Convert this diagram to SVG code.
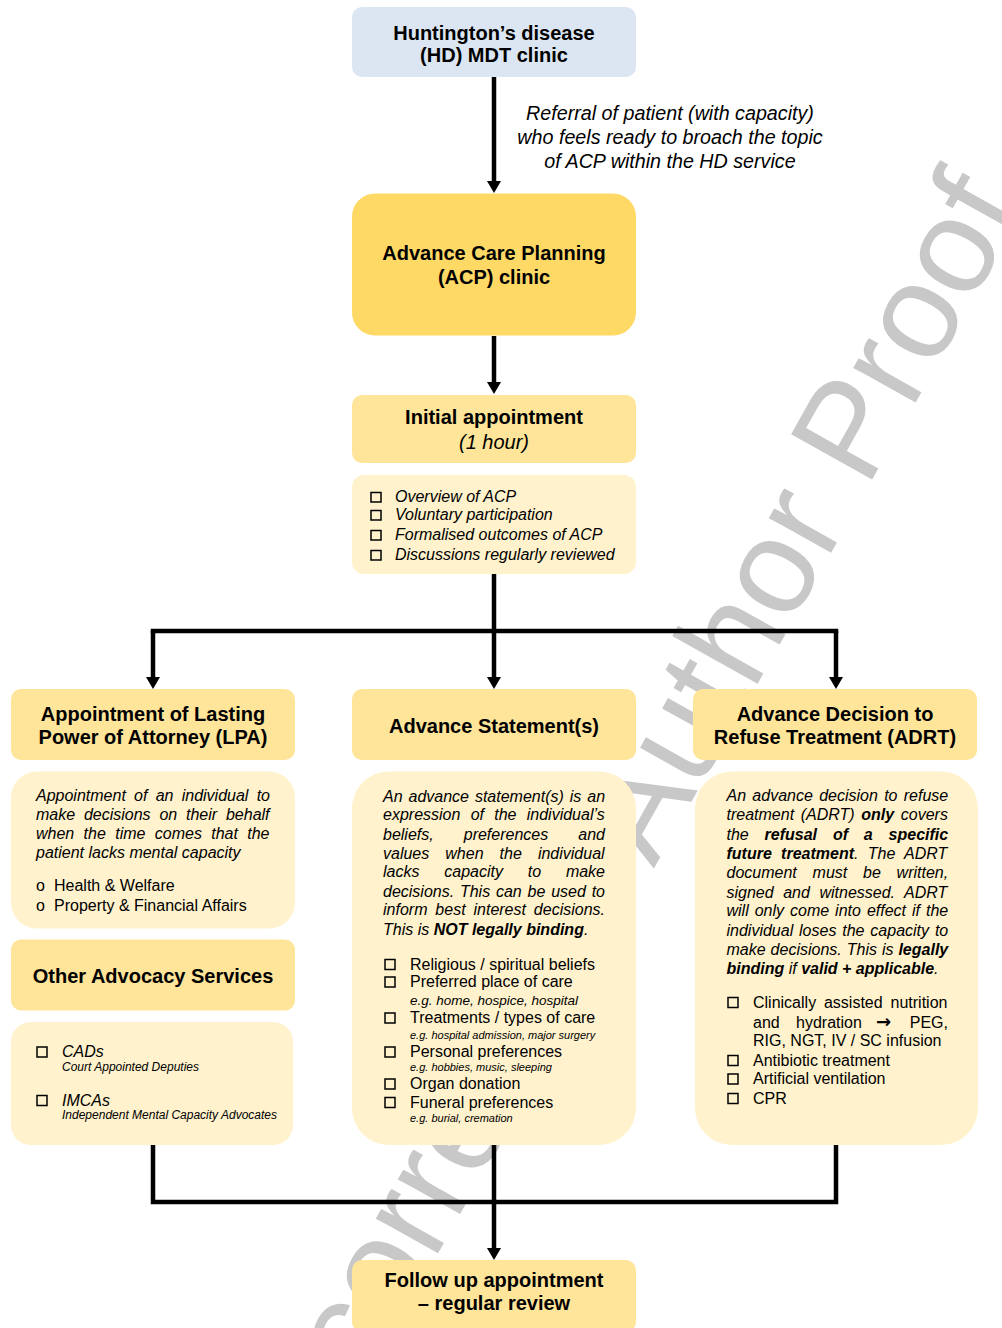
<svg xmlns="http://www.w3.org/2000/svg" width="1002" height="1328" viewBox="0 0 1002 1328">
<style>
text{font-family:"Liberation Sans",Arial,sans-serif;fill:#000}
.h{font-size:20px;font-weight:bold;text-anchor:middle}
.it{font-size:16px;font-style:italic}
.rg{font-size:16px}
.b{font-weight:bold}
.s11{font-size:11px;font-style:italic}
.s12{font-size:12px;font-style:italic}
.s13{font-size:13.5px;font-style:italic}
.blue{fill:#dce6f2}
.gold{fill:#ffd966}
.head{fill:#ffe599}
.body{fill:#fff2cc}
.cb{fill:none;stroke:#000;stroke-width:1.5}
.wm{font-size:135px;fill:#c8c8c8}
.con{fill:none;stroke:#000;stroke-width:4.5}
</style>
<defs>
<marker id="ah" viewBox="0 0 12 14" refX="0" refY="7" markerWidth="12" markerHeight="14" markerUnits="userSpaceOnUse" orient="auto">
<path d="M0,0 L12,7 L0,14 z" fill="#000"/>
</marker>
</defs>
<rect width="1002" height="1328" fill="#fff"/>
<text class="wm" transform="translate(652,872) rotate(-60.7)" text-anchor="middle">Uncorrected Author Proof</text>

<g id="connectors">
<path class="con" d="M494,77 V181" marker-end="url(#ah)"/>
<path class="con" d="M494,336 V382" marker-end="url(#ah)"/>
<path class="con" d="M494,574 V631"/>
<path class="con" d="M153,631 H836" stroke-linecap="square"/>
<path class="con" d="M153,631 V677" marker-end="url(#ah)"/>
<path class="con" d="M494,631 V677" marker-end="url(#ah)"/>
<path class="con" d="M836,631 V677" marker-end="url(#ah)"/>
<path class="con" d="M153,1145 V1202 H836 V1145" stroke-linejoin="miter"/>
<path class="con" d="M494,1145 V1248" marker-end="url(#ah)"/>
</g>
<text class="it" text-anchor="middle" style="font-size:19.7px"><tspan x="670" y="120">Referral of patient (with capacity)</tspan><tspan x="670" y="144">who feels ready to broach the topic</tspan><tspan x="670" y="168">of ACP within the HD service</tspan></text>

<g id="hd-clinic">
<rect class="blue" x="352" y="7" width="284" height="70" rx="10"/>
<text class="h"><tspan x="494" y="40">Huntington’s disease</tspan><tspan x="494" y="62">(HD) MDT clinic</tspan></text>
</g>

<g id="acp-clinic">
<rect class="gold" x="352" y="193.5" width="284" height="142" rx="23"/>
<text class="h"><tspan x="494" y="260">Advance Care Planning</tspan><tspan x="494" y="284">(ACP) clinic</tspan></text>
</g>

<g id="initial-appointment">
<rect class="head" x="352" y="395" width="284" height="68" rx="10"/>
<text class="h" x="494" y="424">Initial appointment</text>
<text class="it" x="494" y="449" text-anchor="middle" style="font-size:20px">(1 hour)</text>
</g>

<g id="initial-checklist">
<rect class="body" x="352" y="475" width="284" height="99" rx="12"/>
<rect class="cb" x="371" y="492.5" width="10" height="9.5"/>
<rect class="cb" x="371" y="510.5" width="10" height="9.5"/>
<rect class="cb" x="371" y="530.5" width="10" height="9.5"/>
<rect class="cb" x="371" y="550.5" width="10" height="9.5"/>
<text class="it"><tspan x="395" y="502">Overview of ACP</tspan><tspan x="395" y="520">Voluntary participation</tspan><tspan x="395" y="540">Formalised outcomes of ACP</tspan><tspan x="395" y="560">Discussions regularly reviewed</tspan></text>
</g>

<g id="lpa">
<rect class="head" x="11" y="689" width="284" height="71" rx="10"/>
<text class="h"><tspan x="153" y="721">Appointment of Lasting</tspan><tspan x="153" y="744">Power of Attorney (LPA)</tspan></text>
</g>

<g id="lpa-details">
<rect class="body" x="11" y="771.5" width="284" height="157" rx="26"/>
<text class="it" x="36" y="801" word-spacing="3.8">Appointment of an individual to</text>
<text class="it" x="36" y="820" word-spacing="4.35">make decisions on their behalf</text>
<text class="it" x="36" y="839" word-spacing="4.9">when the time comes that the</text>
<text class="it" x="36" y="858">patient lacks mental capacity</text>
<text class="rg" x="36" y="891">o</text><text class="rg" x="54" y="891">Health &amp; Welfare</text>
<text class="rg" x="36" y="911">o</text><text class="rg" x="54" y="911">Property &amp; Financial Affairs</text>
</g>

<g id="other-advocacy">
<rect class="head" x="11" y="939.5" width="284" height="71" rx="10"/>
<text class="h" x="153" y="983">Other Advocacy Services</text>
</g>

<g id="advocacy-details">
<rect class="body" x="11" y="1022" width="282" height="123" rx="20"/>
<rect class="cb" x="37" y="1047" width="10" height="10"/>
<text class="it" x="62" y="1057">CADs</text>
<text class="s12" x="62" y="1071">Court Appointed Deputies</text>
<rect class="cb" x="37" y="1095.5" width="10" height="10"/>
<text class="it" x="62" y="1105.5">IMCAs</text>
<text class="s12" x="62" y="1119">Independent Mental Capacity Advocates</text>
</g>

<g id="advance-statement">
<rect class="head" x="352" y="689" width="284" height="71" rx="10"/>
<text class="h" x="494" y="733">Advance Statement(s)</text>
</g>

<g id="advance-statement-details">
<rect class="body" x="352" y="771.5" width="284" height="373.5" rx="37"/>
<text class="it" x="383" y="801.5" word-spacing="1.48">An advance statement(s) is an</text>
<text class="it" x="383" y="820" word-spacing="5.82">expression of the individual’s</text>
<text class="it" x="383" y="839.5" word-spacing="25.6">beliefs, preferences and</text>
<text class="it" x="383" y="858.5" word-spacing="11.6">values when the individual</text>
<text class="it" x="383" y="877" word-spacing="20.35">lacks capacity to make</text>
<text class="it" x="383" y="897" word-spacing="1.35">decisions. This can be used to</text>
<text class="it" x="383" y="915" word-spacing="3.45">inform best interest decisions.</text>
<text class="it" x="383" y="935">This is <tspan class="b">NOT legally binding</tspan>.</text>
<rect class="cb" x="385" y="959.5" width="10" height="10"/>
<text class="rg" x="410" y="969.5">Religious / spiritual beliefs</text>
<rect class="cb" x="385" y="977" width="10" height="10"/>
<text class="rg" x="410" y="987">Preferred place of care</text>
<text class="s13" x="410" y="1005">e.g. home, hospice, hospital</text>
<rect class="cb" x="385" y="1013" width="10" height="10"/>
<text class="rg" x="410" y="1023">Treatments / types of care</text>
<text class="s11" x="410" y="1038.5">e.g. hospital admission, major surgery</text>
<rect class="cb" x="385" y="1047" width="10" height="10"/>
<text class="rg" x="410" y="1057">Personal preferences</text>
<text class="s11" x="410" y="1071">e.g. hobbies, music, sleeping</text>
<rect class="cb" x="385" y="1079" width="10" height="10"/>
<text class="rg" x="410" y="1089">Organ donation</text>
<rect class="cb" x="385" y="1097.5" width="10" height="10"/>
<text class="rg" x="410" y="1107.5">Funeral preferences</text>
<text class="s11" x="410" y="1122">e.g. burial, cremation</text>
</g>

<g id="adrt">
<rect class="head" x="693" y="689" width="284" height="71" rx="10"/>
<text class="h"><tspan x="835" y="721">Advance Decision to</tspan><tspan x="835" y="744">Refuse Treatment (ADRT)</tspan></text>
</g>

<g id="adrt-details">
<rect class="body" x="695" y="771.5" width="283" height="373.5" rx="37"/>
<text class="it" x="726.5" y="801" word-spacing="1.85">An advance decision to refuse</text>
<text class="it" x="726.5" y="819.5" word-spacing="2.18">treatment (ADRT) <tspan class="b">only</tspan> covers</text>
<text class="it" x="726.5" y="839.5" word-spacing="11.4">the <tspan class="b">refusal of a specific</tspan></text>
<text class="it" x="726.5" y="859" word-spacing="4.85"><tspan class="b">future treatment</tspan>. The ADRT</text>
<text class="it" x="726.5" y="877.5" word-spacing="11.35">document must be written,</text>
<text class="it" x="726.5" y="897.5" word-spacing="5.12">signed and witnessed. ADRT</text>
<text class="it" x="726.5" y="915.5" word-spacing="1.53">will only come into effect if the</text>
<text class="it" x="726.5" y="935.5" word-spacing="1.4">individual loses the capacity to</text>
<text class="it" x="726.5" y="955" word-spacing="0.52">make decisions. This is <tspan class="b">legally</tspan></text>
<text class="it" x="726.5" y="973.5"><tspan class="b">binding</tspan> if <tspan class="b">valid + applicable</tspan>.</text>
<rect class="cb" x="728" y="997.5" width="10" height="10"/>
<text class="rg" x="753" y="1008" word-spacing="3.4">Clinically assisted nutrition</text>
<text class="rg" y="1027.5"><tspan x="753">and</tspan><tspan x="796">hydration</tspan><tspan x="876" style="font-family:'DejaVu Sans',sans-serif;font-size:18px;font-weight:bold">→</tspan><tspan x="948" text-anchor="end">PEG,</tspan></text>
<text class="rg" x="753" y="1046">RIG, NGT, IV / SC infusion</text>
<rect class="cb" x="728" y="1055.5" width="10" height="10"/>
<text class="rg" x="753" y="1065.5">Antibiotic treatment</text>
<rect class="cb" x="728" y="1074" width="10" height="10"/>
<text class="rg" x="753" y="1084">Artificial ventilation</text>
<rect class="cb" x="728" y="1093.5" width="10" height="10"/>
<text class="rg" x="753" y="1103.5">CPR</text>
</g>

<g id="follow-up">
<rect class="head" x="352" y="1260" width="284" height="72" rx="10"/>
<text class="h"><tspan x="494" y="1287">Follow up appointment</tspan><tspan x="494" y="1310">– regular review</tspan></text>
</g>
</svg>
